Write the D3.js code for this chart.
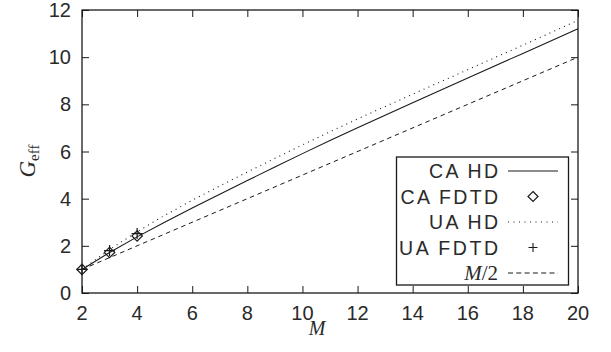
<!DOCTYPE html>
<html><head><meta charset="utf-8">
<script src="https://cdn.jsdelivr.net/npm/d3@7"></script>
<style>body{margin:0;background:#fff}svg{display:block}</style>
</head><body><svg id="c" width="611" height="352"></svg>
<script>
// ---- data ----
const mGrid = [2,3,4,5,6,7,8,9,10,11,12,14,16,18,20];
const caHD  = [1.0,1.72,2.38,3.0,3.6,4.19,4.77,5.34,5.91,6.47,7.01,8.07,9.12,10.16,11.2];
const uaHD  = [1.0,1.84,2.6,3.29,3.93,4.54,5.13,5.71,6.28,6.84,7.38,8.43,9.47,10.51,11.56];
const halfM_x = [2,20];
const halfM_y = [1,10];
const fdtdM  = [2,3,4];
const caFDTD = [1.0,1.72,2.42];
const uaFDTD = [1.0,1.8,2.52];
const xTicks = [2,4,6,8,10,12,14,16,18,20];
const yTicks = [0,2,4,6,8,10,12];
const legendLabels = ["CA HD","CA FDTD","UA HD","UA FDTD","M/2"];

// ---- layout ----
const svg = d3.select("#c");
const L=82,R=578,T=10,B=293;
const x = d3.scaleLinear().domain([2,20]).range([L,R]);
const y = d3.scaleLinear().domain([0,12]).range([B,T]);
const ink="#1a1a1a", txt="#2a2a2a";
const sans="'Liberation Sans', Arial, sans-serif", serif="'Liberation Serif', 'Times New Roman', serif";
const tk=7;

// ticks on four sides
const g = svg.append("g");
g.append("g").attr("transform",`translate(0,${B})`).call(d3.axisBottom(x).tickValues(xTicks).tickSize(-tk).tickFormat(""));
g.append("g").attr("transform",`translate(0,${T})`).call(d3.axisTop(x).tickValues(xTicks).tickSize(-tk).tickFormat(""));
g.append("g").attr("transform",`translate(${L},0)`).call(d3.axisLeft(y).tickValues(yTicks).tickSize(-tk).tickFormat(""));
g.append("g").attr("transform",`translate(${R},0)`).call(d3.axisRight(y).tickValues(yTicks).tickSize(-tk).tickFormat(""));
g.selectAll(".domain").remove();
g.selectAll(".tick line").attr("stroke",ink).attr("stroke-width",1);

// tick labels
svg.append("g").selectAll("text").data(xTicks).join("text")
  .attr("x",d=>x(d)).attr("y",320).attr("text-anchor","middle")
  .attr("font-family",sans).attr("font-size",20).attr("fill",txt).text(d=>d);
svg.append("g").selectAll("text").data(yTicks).join("text")
  .attr("x",71).attr("y",d=>y(d)+7).attr("text-anchor","end")
  .attr("font-family",sans).attr("font-size",20).attr("fill",txt).text(d=>d);

// axis titles
svg.append("text").attr("x",317).attr("y",335).attr("text-anchor","middle")
  .attr("font-family",serif).attr("font-style","italic").attr("font-size",20).attr("fill",txt).text("M");
const yl = svg.append("text").attr("transform","translate(35,161) rotate(-90)").attr("text-anchor","middle")
  .attr("font-family",serif).attr("fill",txt);
yl.append("tspan").attr("font-style","italic").attr("font-size",23).text("G");
yl.append("tspan").attr("font-size",15).attr("dy",4).text("eff");

// curves
const line = d3.line().x(d=>x(d[0])).y(d=>y(d[1]));
const cg = svg.append("g");
cg.append("path").datum(halfM_x.map((m,i)=>[m,halfM_y[i]])).attr("d",line)
  .attr("fill","none").attr("stroke",ink).attr("stroke-width",1).attr("stroke-dasharray","4.5,3.8");
cg.append("path").datum(mGrid.map((m,i)=>[m,uaHD[i]])).attr("d",line)
  .attr("fill","none").attr("stroke",ink).attr("stroke-width",1.1).attr("stroke-dasharray","1,4.3");
cg.append("path").datum(mGrid.map((m,i)=>[m,caHD[i]])).attr("d",line)
  .attr("fill","none").attr("stroke",ink).attr("stroke-width",1.1);

// markers
const diamond = (cx,cy,r)=>`M${cx},${cy-r}L${cx+r},${cy}L${cx},${cy+r}L${cx-r},${cy}Z`;
const plus = (cx,cy,r)=>`M${cx-r},${cy}H${cx+r}M${cx},${cy-r}V${cy+r}`;
svg.append("g").selectAll("path").data(fdtdM.map((m,i)=>[m,caFDTD[i]])).join("path")
  .attr("d",d=>diamond(x(d[0]),y(d[1]),5.2)).attr("fill","none").attr("stroke",ink).attr("stroke-width",1.2);
svg.append("g").selectAll("path").data(fdtdM.map((m,i)=>[m,uaFDTD[i]])).join("path")
  .attr("d",d=>plus(x(d[0]),y(d[1]),5.5)).attr("fill","none").attr("stroke",ink).attr("stroke-width",1.2);

// frame
svg.append("rect").attr("x",L).attr("y",T).attr("width",R-L).attr("height",B-T)
  .attr("fill","none").attr("stroke",ink).attr("stroke-width",1.3);

// legend
const lg = svg.append("g");
lg.append("rect").attr("x",396.5).attr("y",157).attr("width",172).attr("height",128)
  .attr("fill","#fff").attr("stroke",ink).attr("stroke-width",1.3);
const rowY = i => 171 + i*25.5;
const widths = [69,97.5,69,99,44];
legendLabels.forEach((lab,i)=>{
  const t = lg.append("text").attr("x",498).attr("y",rowY(i)+7).attr("text-anchor","end")
    .attr("font-size",19.5).attr("fill",txt);
  if(i===4){
    t.attr("font-family",serif).attr("font-size",21);
    t.append("tspan").attr("font-style","italic").text("M");
    t.append("tspan").text("/2");
  } else {
    t.attr("font-family",sans).attr("textLength",widths[i]).attr("lengthAdjust","spacing").text(lab);
  }
});
const sx0=508, sx1=558, mx=533;
lg.append("line").attr("x1",sx0).attr("x2",sx1).attr("y1",rowY(0)).attr("y2",rowY(0)).attr("stroke",ink).attr("stroke-width",1.1);
lg.append("path").attr("d",diamond(mx,rowY(1),5)).attr("fill","none").attr("stroke",ink).attr("stroke-width",1.2);
lg.append("line").attr("x1",sx0).attr("x2",sx1).attr("y1",rowY(2)).attr("y2",rowY(2)).attr("stroke",ink).attr("stroke-width",1.1).attr("stroke-dasharray","1,4.5");
lg.append("path").attr("d",plus(mx,rowY(3),4.5)).attr("fill","none").attr("stroke",ink).attr("stroke-width",1.1);
lg.append("line").attr("x1",sx0).attr("x2",sx1).attr("y1",rowY(4)).attr("y2",rowY(4)).attr("stroke",ink).attr("stroke-width",1).attr("stroke-dasharray","5,3.3");
</script></body></html>
